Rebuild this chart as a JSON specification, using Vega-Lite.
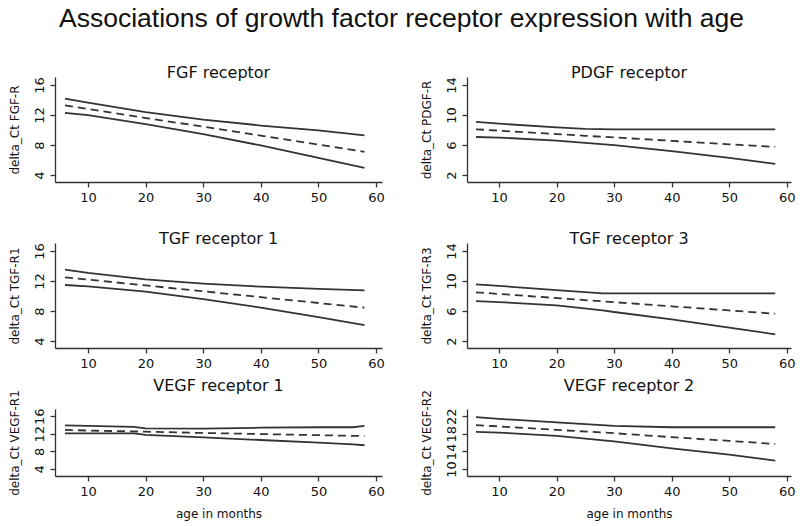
{
  "$schema": "https://vega.github.io/schema/vega-lite/v6.json",
  "padding": {"left": 8, "top": 6, "right": 5, "bottom": 5},
  "title": {"text": "Associations of growth factor receptor expression with age", "font": "Liberation Sans", "fontSize": 26.5, "fontWeight": "normal", "color": "#111", "anchor": "middle", "offset": 32},
  "config": {
    "view": {"stroke": null},
    "font": "DejaVu Sans",
    "axis": {"grid": false, "domainColor": "#333", "tickColor": "#333", "domainWidth": 1.3, "tickWidth": 1.3, "tickSize": 5, "labelFont": "DejaVu Sans", "labelFontSize": 13, "labelColor": "#111", "titleFont": "DejaVu Sans", "titleFontSize": 12, "titleFontWeight": "normal", "titleColor": "#111", "labelPadding": 4, "labelOverlap": false, "labelFlush": false, "tickCount": 12},
    "axisY": {"labelAngle": -90, "labelAlign": "center", "labelBaseline": "bottom", "titlePadding": 12},
    "axisX": {"titlePadding": 10},
    "title": {"font": "DejaVu Sans", "fontSize": 16, "fontWeight": "normal", "color": "#111", "offset": -4},
    "line": {"color": "#333", "strokeWidth": 1.8}
  },
  "datasets": {
    "fgf": [
      {"age": 6, "lo": 12.3, "fit": 13.3, "hi": 14.2},
      {"age": 10, "lo": 12.0, "fit": 12.8, "hi": 13.65},
      {"age": 20, "lo": 10.8, "fit": 11.6, "hi": 12.4},
      {"age": 30, "lo": 9.45, "fit": 10.45, "hi": 11.4},
      {"age": 40, "lo": 7.95, "fit": 9.25, "hi": 10.6},
      {"age": 50, "lo": 6.3, "fit": 8.05, "hi": 9.95},
      {"age": 58, "lo": 4.95, "fit": 7.1, "hi": 9.3}
    ],
    "pdgf": [
      {"age": 6, "lo": 7.07, "fit": 8.1, "hi": 9.1},
      {"age": 10, "lo": 7.0, "fit": 7.92, "hi": 8.85},
      {"age": 20, "lo": 6.6, "fit": 7.46, "hi": 8.35},
      {"age": 25, "lo": 6.3, "fit": 7.23, "hi": 8.15},
      {"age": 30, "lo": 6.0, "fit": 7.01, "hi": 8.1},
      {"age": 40, "lo": 5.2, "fit": 6.56, "hi": 8.1},
      {"age": 50, "lo": 4.3, "fit": 6.1, "hi": 8.1},
      {"age": 58, "lo": 3.5, "fit": 5.75, "hi": 8.1}
    ],
    "tgfr1": [
      {"age": 6, "lo": 11.47, "fit": 12.5, "hi": 13.53},
      {"age": 10, "lo": 11.3, "fit": 12.19, "hi": 13.08},
      {"age": 20, "lo": 10.6, "fit": 11.41, "hi": 12.22},
      {"age": 30, "lo": 9.6, "fit": 10.63, "hi": 11.66},
      {"age": 40, "lo": 8.45, "fit": 9.85, "hi": 11.25},
      {"age": 50, "lo": 7.2, "fit": 9.07, "hi": 10.94},
      {"age": 58, "lo": 6.13, "fit": 8.44, "hi": 10.75}
    ],
    "tgfr3": [
      {"age": 6, "lo": 7.33, "fit": 8.5, "hi": 9.56},
      {"age": 10, "lo": 7.2, "fit": 8.28, "hi": 9.35},
      {"age": 20, "lo": 6.75, "fit": 7.73, "hi": 8.8},
      {"age": 28, "lo": 6.1, "fit": 7.29, "hi": 8.36},
      {"age": 30, "lo": 5.87, "fit": 7.18, "hi": 8.36},
      {"age": 40, "lo": 4.9, "fit": 6.63, "hi": 8.36},
      {"age": 50, "lo": 3.8, "fit": 6.08, "hi": 8.36},
      {"age": 58, "lo": 2.9, "fit": 5.64, "hi": 8.36}
    ],
    "vegfr1": [
      {"age": 6, "lo": 12.1, "fit": 12.9, "hi": 13.95},
      {"age": 10, "lo": 12.1, "fit": 12.75, "hi": 13.8},
      {"age": 18, "lo": 12.1, "fit": 12.55, "hi": 13.6},
      {"age": 20, "lo": 11.75, "fit": 12.5, "hi": 13.25},
      {"age": 30, "lo": 11.2, "fit": 12.2, "hi": 13.2},
      {"age": 40, "lo": 10.6, "fit": 11.95, "hi": 13.4},
      {"age": 50, "lo": 10.0, "fit": 11.7, "hi": 13.5},
      {"age": 56, "lo": 9.6, "fit": 11.55, "hi": 13.5},
      {"age": 58, "lo": 9.4, "fit": 11.5, "hi": 13.8}
    ],
    "vegfr2": [
      {"age": 6, "lo": 18.45, "fit": 20.0, "hi": 21.8},
      {"age": 10, "lo": 18.3, "fit": 19.7, "hi": 21.4},
      {"age": 20, "lo": 17.55, "fit": 18.9, "hi": 20.6},
      {"age": 30, "lo": 16.3, "fit": 18.15, "hi": 19.8},
      {"age": 40, "lo": 14.7, "fit": 17.25, "hi": 19.5},
      {"age": 50, "lo": 13.25, "fit": 16.4, "hi": 19.5},
      {"age": 58, "lo": 11.9, "fit": 15.7, "hi": 19.5}
    ]
  },
  "columns": 2,
  "spacing": {"row": 61, "column": 85},
  "bounds": "flush",
  "concat": [
    {
      "width": 327, "height": 105,
      "title": "FGF receptor",
      "data": {"name": "fgf"},
      "encoding": {"x": {"field": "age", "type": "quantitative", "scale": {"domain": [4.27, 61.04], "nice": false, "zero": false}, "axis": {"values": [10, 20, 30, 40, 50, 60], "title": null}}},
      "layer": [
        {"mark": "line", "encoding": {"y": {"field": "hi", "type": "quantitative", "scale": {"domain": [3.07, 17.07], "nice": false, "zero": false}, "axis": {"values": [4, 8, 12, 16], "tickCount": 12, "title": "delta_Ct FGF-R"}}}},
        {"mark": {"type": "line", "strokeDash": [8, 5]}, "encoding": {"y": {"field": "fit", "type": "quantitative"}}},
        {"mark": "line", "encoding": {"y": {"field": "lo", "type": "quantitative"}}}
      ]
    },
    {
      "width": 324, "height": 105,
      "title": "PDGF receptor",
      "data": {"name": "pdgf"},
      "encoding": {"x": {"field": "age", "type": "quantitative", "scale": {"domain": [4.44, 60.74], "nice": false, "zero": false}, "axis": {"values": [10, 20, 30, 40, 50, 60], "title": null}}},
      "layer": [
        {"mark": "line", "encoding": {"y": {"field": "hi", "type": "quantitative", "scale": {"domain": [1.07, 15.07], "nice": false, "zero": false}, "axis": {"values": [2, 6, 10, 14], "tickCount": 12, "title": "delta_Ct PDGF-R"}}}},
        {"mark": {"type": "line", "strokeDash": [8, 5]}, "encoding": {"y": {"field": "fit", "type": "quantitative"}}},
        {"mark": "line", "encoding": {"y": {"field": "lo", "type": "quantitative"}}}
      ]
    },
    {
      "width": 327, "height": 105,
      "title": "TGF receptor 1",
      "data": {"name": "tgfr1"},
      "encoding": {"x": {"field": "age", "type": "quantitative", "scale": {"domain": [4.27, 61.04], "nice": false, "zero": false}, "axis": {"values": [10, 20, 30, 40, 50, 60], "title": null}}},
      "layer": [
        {"mark": "line", "encoding": {"y": {"field": "hi", "type": "quantitative", "scale": {"domain": [3.07, 17.07], "nice": false, "zero": false}, "axis": {"values": [4, 8, 12, 16], "tickCount": 12, "title": "delta_Ct TGF-R1"}}}},
        {"mark": {"type": "line", "strokeDash": [8, 5]}, "encoding": {"y": {"field": "fit", "type": "quantitative"}}},
        {"mark": "line", "encoding": {"y": {"field": "lo", "type": "quantitative"}}}
      ]
    },
    {
      "width": 324, "height": 105,
      "title": "TGF receptor 3",
      "data": {"name": "tgfr3"},
      "encoding": {"x": {"field": "age", "type": "quantitative", "scale": {"domain": [4.44, 60.74], "nice": false, "zero": false}, "axis": {"values": [10, 20, 30, 40, 50, 60], "title": null}}},
      "layer": [
        {"mark": "line", "encoding": {"y": {"field": "hi", "type": "quantitative", "scale": {"domain": [1.07, 15.07], "nice": false, "zero": false}, "axis": {"values": [2, 6, 10, 14], "tickCount": 12, "title": "delta_Ct TGF-R3"}}}},
        {"mark": {"type": "line", "strokeDash": [8, 5]}, "encoding": {"y": {"field": "fit", "type": "quantitative"}}},
        {"mark": "line", "encoding": {"y": {"field": "lo", "type": "quantitative"}}}
      ]
    },
    {
      "width": 327, "height": 67,
      "title": "VEGF receptor 1",
      "data": {"name": "vegfr1"},
      "encoding": {"x": {"field": "age", "type": "quantitative", "scale": {"domain": [4.27, 61.04], "nice": false, "zero": false}, "axis": {"values": [10, 20, 30, 40, 50, 60], "title": "age in months"}}},
      "layer": [
        {"mark": "line", "encoding": {"y": {"field": "hi", "type": "quantitative", "scale": {"domain": [2.4, 17.66], "nice": false, "zero": false}, "axis": {"values": [4, 8, 12, 16], "tickCount": 12, "title": "delta_Ct VEGF-R1"}}}},
        {"mark": {"type": "line", "strokeDash": [8, 5]}, "encoding": {"y": {"field": "fit", "type": "quantitative"}}},
        {"mark": "line", "encoding": {"y": {"field": "lo", "type": "quantitative"}}}
      ]
    },
    {
      "width": 324, "height": 67,
      "title": "VEGF receptor 2",
      "data": {"name": "vegfr2"},
      "encoding": {"x": {"field": "age", "type": "quantitative", "scale": {"domain": [4.44, 60.74], "nice": false, "zero": false}, "axis": {"values": [10, 20, 30, 40, 50, 60], "title": "age in months"}}},
      "layer": [
        {"mark": "line", "encoding": {"y": {"field": "hi", "type": "quantitative", "scale": {"domain": [8.4, 23.66], "nice": false, "zero": false}, "axis": {"values": [10, 14, 18, 22], "tickCount": 12, "title": "delta_Ct VEGF-R2"}}}},
        {"mark": {"type": "line", "strokeDash": [8, 5]}, "encoding": {"y": {"field": "fit", "type": "quantitative"}}},
        {"mark": "line", "encoding": {"y": {"field": "lo", "type": "quantitative"}}}
      ]
    }
  ]
}
